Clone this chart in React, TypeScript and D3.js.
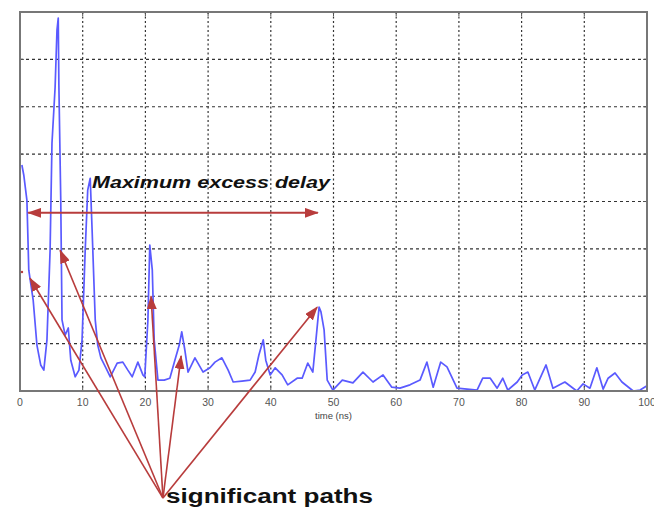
import * as d3 from "d3";

// impulse response samples: delay (ns) and relative amplitude
const times = [
  0.3, 0.6, 1.1, 1.4, 2.1, 2.7, 3.3, 3.8, 4.3, 4.8, 5.1, 5.6, 5.9, 6.1, 6.2, 6.5, 6.7, 7.2, 7.7, 8.1,
  8.8, 9.4, 9.9, 10.4, 10.8, 11.2, 11.5, 12.0, 12.4, 12.9, 13.7, 14.4, 15.5, 16.4, 17.2, 17.9, 18.8, 19.6, 19.9, 20.4,
  20.7, 21.1, 21.4, 22.0, 23.0, 23.9, 24.7, 25.4, 25.8, 26.3, 26.8, 27.9, 29.2, 30.3, 31.1, 32.2, 33.2, 34.0, 35.4, 36.7,
  37.5, 38.1, 38.8, 39.2, 39.9, 40.7, 41.8, 42.7, 44.2, 45.0, 45.9, 46.7, 47.2, 47.7, 48.0, 48.5, 49.0, 49.9, 51.4, 53.1,
  54.7, 56.3, 57.9, 59.3, 60.6, 62.2, 63.8, 64.9, 65.9, 67.1, 68.1, 69.7, 71.3, 72.9, 73.8, 75.0, 76.1, 77.0, 77.8, 79.3,
  80.1, 81.0, 82.1, 83.9, 85.0, 86.9, 88.8, 89.8, 90.9, 92.0, 93.0, 93.8, 94.9, 96.0, 97.8, 98.9, 100,
];
const amps = [
  4.77, 4.56, 4.03, 2.55, 1.92, 0.97, 0.55, 0.44, 1.08, 2.97, 5.23, 6.41, 7.62, 7.87, 6.46, 4.03, 1.5, 1.18, 1.33, 0.65,
  0.3, 0.44, 1.08, 2.97, 4.24, 4.49, 3.4, 1.5, 0.97, 0.7, 0.49, 0.3, 0.59, 0.61, 0.44, 0.3, 0.61, 0.34, 0.3, 1.5,
  3.08, 2.55, 1.08, 0.23, 0.23, 0.27, 0.65, 0.97, 1.25, 0.86, 0.4, 0.7, 0.4, 0.49, 0.61, 0.7, 0.44, 0.19, 0.21, 0.23,
  0.4, 0.76, 1.08, 0.65, 0.34, 0.49, 0.34, 0.13, 0.27, 0.27, 0.59, 0.4, 1.08, 1.77, 1.67, 1.29, 0.23, 0.02, 0.23, 0.17,
  0.4, 0.19, 0.34, 0.08, 0.06, 0.13, 0.23, 0.61, 0.08, 0.61, 0.51, 0.06, 0.04, 0.02, 0.27, 0.27, 0.06, 0.27, 0.02, 0.19,
  0.34, 0.4, 0.02, 0.55, 0.06, 0.19, 0.0, 0.15, 0.06, 0.49, 0.04, 0.27, 0.38, 0.19, 0.0, 0.02, 0.11,
];

const xTicks = [0, 10, 20, 30, 40, 50, 60, 70, 80, 90, 100];
const yGrid = [1, 2, 3, 4, 5, 6, 7];

// annotation arrows (data units): common origin and the peaks they point at
const pathOrigin = [22.8, -2.26];
const pathTargets = [
  [1.6, 2.38],
  [6.4, 2.97],
  [20.9, 2.0],
  [25.7, 0.74],
  [47.4, 1.77],
];
const delaySpan = [1.3, 47.5];
const delayLevel = 3.76;

const W = 654;
const H = 509;
const left = 20;
const right = 647;
const top = 12;
const bottom = 391;

const RED = "#b83c3c";

export default function App() {
  const x = d3.scaleLinear().domain([0, 100]).range([left, right]);
  const y = d3.scaleLinear().domain([0, 8]).range([bottom, top]);

  const line = d3
    .line<number>()
    .x((_, i) => x(times[i]))
    .y((d) => y(d));

  return (
    <svg
      width={W}
      height={H}
      style={{ position: "absolute", left: 0, top: 0, background: "#fff" }}
      fontFamily="'Liberation Sans', Arial, sans-serif"
    >
      <defs>
        <marker
          id="head"
          markerUnits="userSpaceOnUse"
          viewBox="0 0 14 10"
          refX={13}
          refY={5}
          markerWidth={14}
          markerHeight={10}
          orient="auto-start-reverse"
        >
          <path d="M0,0 L14,5 L0,10 Z" fill={RED} />
        </marker>
      </defs>

      {/* grid */}
      {yGrid.map((v) => (
        <line
          key={"h" + v}
          x1={left}
          x2={right}
          y1={y(v)}
          y2={y(v)}
          stroke="#333"
          strokeWidth={1.2}
          strokeDasharray="3,3"
        />
      ))}
      {xTicks.slice(1, -1).map((t) => (
        <line
          key={"v" + t}
          x1={x(t)}
          x2={x(t)}
          y1={top}
          y2={bottom}
          stroke="#333"
          strokeWidth={1.2}
          strokeDasharray="2,2.5"
        />
      ))}

      {/* ticks */}
      {xTicks.map((t) => (
        <g key={"t" + t}>
          <line x1={x(t)} x2={x(t)} y1={bottom} y2={bottom - 4} stroke="#555" />
          <line x1={x(t)} x2={x(t)} y1={top} y2={top + 4} stroke="#555" />
          <text
            x={x(t)}
            y={bottom + 15}
            textAnchor="middle"
            fontSize={10.5}
            fill="#555"
          >
            {t}
          </text>
        </g>
      ))}
      {yGrid.map((v) => (
        <g key={"yt" + v}>
          <line x1={left} x2={left + 4} y1={y(v)} y2={y(v)} stroke="#555" />
          <line x1={right} x2={right - 4} y1={y(v)} y2={y(v)} stroke="#555" />
        </g>
      ))}

      {/* signal */}
      <path d={line(amps) ?? ""} fill="none" stroke="#5a5aff" strokeWidth={1.7} strokeLinejoin="round" />

      {/* frame */}
      <rect
        x={left}
        y={top}
        width={right - left}
        height={bottom - top}
        fill="none"
        stroke="#777"
        strokeWidth={2}
      />

      <text x={x(50)} y={bottom + 28} textAnchor="middle" fontSize={9.5} fill="#444">
        time (ns)
      </text>

      {/* maximum excess delay */}
      <line
        x1={x(delaySpan[0])}
        x2={x(delaySpan[1])}
        y1={y(delayLevel)}
        y2={y(delayLevel)}
        stroke={RED}
        strokeWidth={2}
        markerStart="url(#head)"
        markerEnd="url(#head)"
      />
      <text
        x={92}
        y={188}
        fontSize={16}
        fontWeight="bold"
        fontStyle="italic"
        fill="#111"
        textLength={238}
        lengthAdjust="spacingAndGlyphs"
      >
        Maximum excess delay
      </text>

      {/* significant paths */}
      {pathTargets.map((p, i) => (
        <line
          key={"a" + i}
          x1={x(pathOrigin[0])}
          y1={y(pathOrigin[1])}
          x2={x(p[0])}
          y2={y(p[1])}
          stroke={RED}
          strokeWidth={1.6}
          markerEnd="url(#head)"
        />
      ))}
      <circle cx={22} cy={272} r={1.2} fill={RED} />
      <text x={166} y={503} fontSize={19.5} fontWeight="bold" fill="#111" textLength={207} lengthAdjust="spacingAndGlyphs">
        significant paths
      </text>
    </svg>
  );
}
